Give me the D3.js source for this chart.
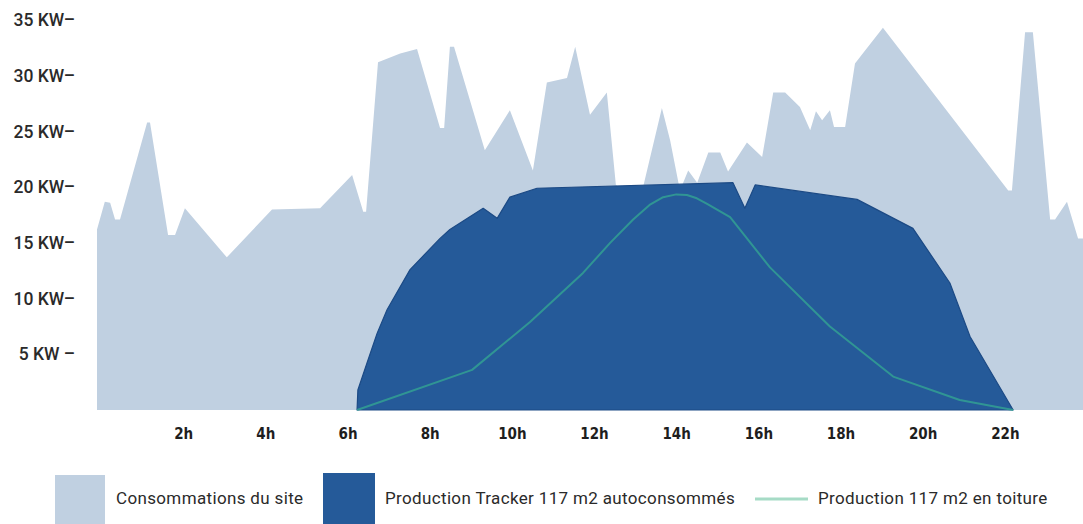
<!DOCTYPE html>
<html>
<head>
<meta charset="utf-8">
<script src="https://cdn.jsdelivr.net/npm/d3@7"></script>
<style>
  html, body { margin: 0; padding: 0; background: #ffffff; }
  svg { display: block; }
</style>
</head>
<body>
<svg id="chart" width="1083" height="524"></svg>
<script>
// Site consumption over the day (hour, kW)
const consoHours = [0, 0.19, 0.32, 0.44, 0.56, 1.22, 1.29, 1.73, 1.90, 2.14, 3.16, 4.26, 5.43, 6.21, 6.48, 6.55,
  6.84, 7.38, 7.79, 8.35, 8.45, 8.59, 8.69, 9.44, 10.05, 10.61, 10.95, 11.44, 11.64, 12.0, 12.41, 12.63,
  13.22, 13.75, 13.95, 14.19, 14.39, 14.61, 14.88, 15.17, 15.36, 15.82, 16.19, 16.46, 16.75, 17.11, 17.36,
  17.5, 17.65, 17.84, 17.94, 18.21, 18.45, 18.62, 19.13, 22.18, 22.27, 22.59, 22.78, 23.2, 23.32, 23.61, 23.88, 24.0];
const consoKW = [16.2, 18.7, 18.6, 17.1, 17.1, 25.8, 25.8, 15.7, 15.7, 18.1, 13.7, 18.0, 18.1, 21.1, 17.8, 17.8,
  31.2, 32.0, 32.4, 25.3, 25.3, 32.6, 32.6, 23.3, 26.9, 21.5, 29.4, 29.8, 32.6, 26.5, 28.5, 20.2,
  18.9, 27.1, 24.2, 19.7, 21.5, 20.4, 23.1, 23.1, 21.4, 24.0, 22.7, 28.5, 28.5, 27.2, 25.1,
  26.8, 26.0, 26.9, 25.4, 25.4, 31.1, 31.9, 34.3, 19.7, 19.7, 33.9, 33.9, 17.1, 17.1, 18.7, 15.4, 15.4];

// Tracker production, self-consumed (hour, kW)
const trackerHours = [6.33, 6.35, 6.57, 6.82, 7.06, 7.62, 8.35, 8.59, 9.40, 9.74, 10.05, 10.71, 15.48, 15.77, 16.02, 18.50, 19.86, 20.76, 21.25, 22.30];
const trackerKW = [0, 1.8, 4.2, 6.9, 9.0, 12.6, 15.4, 16.2, 18.1, 17.2, 19.1, 19.9, 20.4, 18.1, 20.2, 18.9, 16.3, 11.4, 6.6, 0];

// Rooftop production (hour, kW)
const roofHours = [6.33, 9.13, 10.54, 11.83, 12.49, 13.05, 13.45, 13.78, 14.1, 14.36, 14.6, 14.85, 15.41, 16.38, 17.84, 19.38, 21.0, 22.3];
const roofKW = [0, 3.6, 7.9, 12.3, 15.0, 17.1, 18.4, 19.1, 19.35, 19.3, 19.0, 18.5, 17.3, 12.8, 7.5, 3.0, 0.9, 0];

// Axis ticks
const yTickValues = [5, 10, 15, 20, 25, 30, 35];
const yTickLabels = ["5 KW \u2013", "10 KW\u2013", "15 KW\u2013", "20 KW\u2013", "25 KW\u2013", "30 KW\u2013", "35 KW\u2013"];
const xTickValues = [2, 4, 6, 8, 10, 12, 14, 16, 18, 20, 22];
const xTickLabels = ["2h", "4h", "6h", "8h", "10h", "12h", "14h", "16h", "18h", "20h", "22h"];

// Legend entries
const legendLabels = ["Consommations du site", "Production Tracker 117 m2 autoconsommés", "Production 117 m2 en toiture"];

const colLight = "#c0d0e1";
const colDark = "#255a99";
const colDarkEdge = "#1c4a85";
const colLine = "#33a093";
const colLegendLine = "#a6dbc6";

const svg = d3.select("#chart");

const x = d3.scaleLinear().domain([0, 24]).range([97, 1083]);
const y = d3.scaleLinear().domain([0, 35]).range([410, 20]);

const zip = (hs, vs) => hs.map((h, i) => ({ h, v: vs[i] }));
const conso = zip(consoHours, consoKW);
const tracker = zip(trackerHours, trackerKW);
const roof = zip(roofHours, roofKW);

const area = d3.area().x(d => x(d.h)).y0(y(0)).y1(d => y(d.v)).curve(d3.curveLinear);

svg.append("path").datum(conso)
  .attr("d", area)
  .attr("fill", colLight);

svg.append("path").datum(tracker)
  .attr("d", area)
  .attr("fill", colDark)
  .attr("stroke", colDarkEdge)
  .attr("stroke-width", 1.2)
  .attr("stroke-linejoin", "round");

svg.append("path").datum(roof)
  .attr("d", d3.line().x(d => x(d.h)).y(d => y(d.v)).curve(d3.curveLinear))
  .attr("fill", "none")
  .attr("stroke", colLine)
  .attr("stroke-width", 2)
  .attr("stroke-linejoin", "round")
  .attr("stroke-opacity", 0.85);

// Y axis: labels carry their own dash
const yAxis = d3.axisLeft(y)
  .tickValues(yTickValues)
  .tickSize(0)
  .tickPadding(0)
  .tickFormat((d, i) => yTickLabels[i]);
const gy = svg.append("g").attr("transform", "translate(75,0)").call(yAxis);
gy.select(".domain").remove();
gy.selectAll("text")
  .attr("font-family", "Roboto, 'Noto Sans', sans-serif")
  .attr("font-size", 17.5)
  .attr("font-weight", 500)
  .attr("fill", "#2a2a2a");

// X axis
const xAxis = d3.axisBottom(x)
  .tickValues(xTickValues)
  .tickSize(0)
  .tickPadding(0)
  .tickFormat((d, i) => xTickLabels[i]);
const gx = svg.append("g").attr("transform", "translate(4,428)").call(xAxis);
gx.select(".domain").remove();
gx.selectAll("text")
  .attr("font-family", "'Liberation Sans Narrow', 'DejaVu Sans Condensed', sans-serif")
  .attr("font-size", 15)
  .attr("font-weight", 700)
  .attr("fill", "#1e1e1e");

// Legend
const legend = svg.append("g").attr("font-family", "Roboto, 'Noto Sans', sans-serif")
  .attr("font-size", 17).attr("letter-spacing", 0.35).attr("fill", "#2a2a2a");

legend.append("rect").attr("x", 55).attr("y", 475).attr("width", 50).attr("height", 60).attr("fill", colLight);
legend.append("text").attr("x", 116).attr("y", 498).attr("dy", "0.35em").text(legendLabels[0]);

legend.append("rect").attr("x", 323).attr("y", 473).attr("width", 52).attr("height", 60).attr("fill", colDark);
legend.append("text").attr("x", 385).attr("y", 498).attr("dy", "0.35em").text(legendLabels[1]);

legend.append("line").attr("x1", 755).attr("x2", 808).attr("y1", 499).attr("y2", 499)
  .attr("stroke", colLegendLine).attr("stroke-width", 3);
legend.append("text").attr("x", 818).attr("y", 498).attr("dy", "0.35em").text(legendLabels[2]);
</script>
</body>
</html>
